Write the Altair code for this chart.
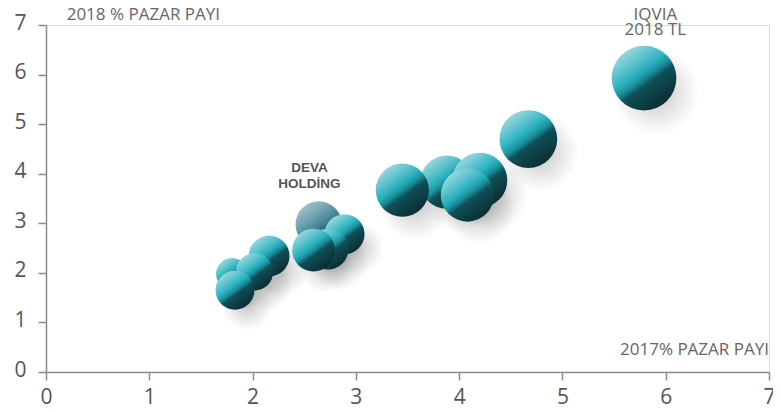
import altair as alt
import pandas as pd

# 2017 market share (x), 2018 market share (y), 2018 TL size (bubble area)
x_2017 = [2.16, 1.80, 2.02, 1.83, 2.89, 2.73, 2.59, 3.88, 4.20, 3.45, 4.08, 4.67, 5.79]
y_2018 = [2.34, 1.98, 2.02, 1.65, 2.78, 2.48, 2.46, 3.83, 3.87, 3.67, 3.57, 4.70, 5.93]
tl_2018 = [5.3, 3.2, 4.4, 4.8, 5.1, 5.3, 5.8, 9.0, 9.6, 9.0, 9.0, 10.6, 13.3]

deva_x = [2.64]
deva_y = [2.98]
deva_tl = [6.8]

ticks = [0, 1, 2, 3, 4, 5, 6, 7]

df = pd.DataFrame({"x": x_2017, "y": y_2018, "tl": tl_2018, "idx": list(range(len(x_2017)))})
deva = pd.DataFrame({"x": deva_x, "y": deva_y, "tl": deva_tl, "idx": [0]})
alld = pd.concat([deva, df], ignore_index=True)
alld["idx"] = range(len(alld))

FONT = "Open Sans"
xs = alt.Scale(domain=[0, 7], nice=False, zero=True)
ys = alt.Scale(domain=[0, 7], nice=False, zero=True)
MAXA = 4185
size_bub = alt.Scale(domain=[0, 13.3], range=[0, MAXA], zero=True)
size_sh = alt.Scale(domain=[0, 13.3], range=[0, MAXA * 1.8], zero=True)

sphere = {
    "gradient": "linear", "x1": 0.15, "y1": 0.05, "x2": 0.8, "y2": 0.95,
    "stops": [
        {"offset": 0.0, "color": "#aadde2"},
        {"offset": 0.25, "color": "#5ec4ce"},
        {"offset": 0.42, "color": "#27afbc"},
        {"offset": 0.52, "color": "#1a8c97"},
        {"offset": 0.61, "color": "#0f4f57"},
        {"offset": 1.0, "color": "#0a2a2f"},
    ],
}
deva_grad = {
    "gradient": "linear", "x1": 0.15, "y1": 0.05, "x2": 0.8, "y2": 0.95,
    "stops": [
        {"offset": 0.0, "color": "#a9c6cd"},
        {"offset": 0.3, "color": "#76a6b2"},
        {"offset": 0.5, "color": "#4d8b99"},
        {"offset": 0.7, "color": "#2a6270"},
        {"offset": 1.0, "color": "#1d4852"},
    ],
}
shadow = {
    "gradient": "radial", "x1": 0.5, "y1": 0.5, "r1": 0, "x2": 0.5, "y2": 0.5, "r2": 0.5,
    "stops": [
        {"offset": 0.0, "color": "rgba(0,0,0,0.24)"},
        {"offset": 0.5, "color": "rgba(0,0,0,0.11)"},
        {"offset": 1.0, "color": "rgba(0,0,0,0)"},
    ],
}

common = dict(values=ticks, format="d", title=None, grid=False, labelFontSize=21,
              labelColor="#555555", labelFont=FONT, domainColor="#8a8a8a",
              tickColor="#8a8a8a", domainWidth=1.5, tickWidth=1.5, labelFlush=False)
xenc = alt.X("x:Q", scale=xs, axis=alt.Axis(tickSize=8, labelPadding=23,
                                              labelBaseline="alphabetic", **common))
yenc = alt.Y("y:Q", scale=ys, axis=alt.Axis(tickSize=8, labelPadding=12,
                                              labelBaseline="alphabetic", labelOffset=4, **common))

shadows = alt.Chart(alld).mark_circle(fill=shadow, opacity=1, xOffset=12, yOffset=14).encode(
    x=xenc, y=yenc, size=alt.Size("tl:Q", scale=size_sh, legend=None), order=alt.Order("idx:Q"))

deva_layer = alt.Chart(deva).mark_circle(fill=deva_grad, opacity=1).encode(
    x=xenc, y=yenc, size=alt.Size("tl:Q", scale=size_bub, legend=None))

bubbles = alt.Chart(df).mark_circle(fill=sphere, opacity=1).encode(
    x=xenc, y=yenc, size=alt.Size("tl:Q", scale=size_bub, legend=None), order=alt.Order("idx:Q"))

lab_left = pd.DataFrame({"x": [0.20], "y": [7.10], "t": ["2018 % PAZAR PAYI"]})
lab_right = pd.DataFrame({"x": [7.0], "y": [0.35], "t": ["2017% PAZAR PAYI"]})
lab_iqvia = pd.DataFrame({"x": [5.90, 5.90], "y": [7.10, 6.79], "t": ["IQVIA", "2018 TL"]})
lab_deva = pd.DataFrame({"x": [2.55, 2.55], "y": [4.04, 3.71], "t": ["DEVA", "HOLDİNG"]})

def txt(d, **kw):
    return alt.Chart(d).mark_text(baseline="alphabetic", **kw).encode(
        x=alt.X("x:Q", scale=xs), y=alt.Y("y:Q", scale=ys), text="t:N")

t1 = txt(lab_left, align="left", font=FONT, fontSize=17, color="#666666")
t2 = txt(lab_right, align="right", font=FONT, fontSize=17, color="#666666")
t3 = txt(lab_iqvia, align="center", font=FONT, fontSize=17, color="#666666")
t4 = txt(lab_deva, align="center", font="Liberation Sans", fontSize=13.5, fontWeight="bold", color="#555555")

chart = alt.layer(shadows, deva_layer, bubbles, t1, t2, t3, t4).resolve_scale(
    size="independent"
).properties(
    width=723, height=347,
    autosize=alt.AutoSizeParams(type="none"),
    padding={"left": 38, "top": 17, "right": 4, "bottom": 32},
).configure_view(stroke=None).configure(background="white")

chart.save("out.html", embed_options={"renderer": "svg", "actions": False})
